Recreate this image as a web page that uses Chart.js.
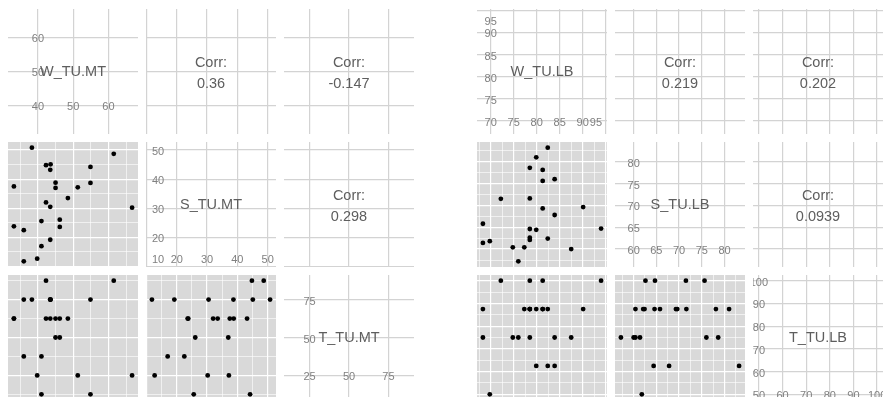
<!DOCTYPE html>
<html>
<head>
<meta charset="utf-8">
<script src="https://cdn.jsdelivr.net/npm/chart.js@4.4.0/dist/chart.umd.min.js"></script>
<style>
  html, body { margin: 0; padding: 0; background: #fff; width: 884px; height: 397px; overflow: hidden; }
  canvas.panel { position: absolute; }
</style>
</head>
<body>
<script>
// --- data (24 respondents each) ---
const W_TU_MT = [38.3, 61.5, 42.3, 43.6, 43.5, 54.9, 33.2, 45.0, 45.0, 51.3, 54.9, 48.5,
                 42.3, 43.5, 66.7, 46.2, 41.0, 33.2, 46.2, 36.0, 43.5, 41.0, 39.8, 36.0];
const S_TU_MT = [50.8, 48.7, 44.8, 45.1, 43.2, 44.2, 37.5, 38.8, 37.0, 37.2, 38.7, 33.5,
                 32.0, 30.5, 30.2, 26.1, 25.6, 23.8, 23.6, 22.5, 19.2, 17.0, 12.7, 11.8];
const T_TU_MT = [75, 87.5, 87.5, 75, 62.5, 12.5, 62.5, 62.5, 50, 25, 75, 62.5,
                 62.5, 75, 25, 50, 12.5, 62.5, 62.5, 37.5, 75, 37.5, 25, 75];

const W_TU_LB = [82.4, 79.9, 78.5, 81.3, 83.9, 81.3, 72.2, 78.5, 90.1, 81.3, 83.9, 68.3,
                 78.5, 79.9, 94.0, 78.5, 78.5, 82.4, 68.3, 69.8, 74.8, 77.3, 87.5, 76.0];
const S_TU_LB = [83.2, 81.0, 78.6, 78.1, 76.0, 75.6, 71.5, 71.6, 69.6, 69.3, 67.8, 65.8,
                 64.6, 64.4, 64.7, 62.6, 62.1, 62.4, 61.4, 61.8, 60.4, 60.4, 60.0, 57.2];
const T_TU_LB = [62.5, 87.5, 75, 87.5, 75, 100, 100, 87.5, 87.5, 87.5, 62.5, 87.5,
                 87.5, 62.5, 100, 100, 87.5, 87.5, 75, 50, 75, 87.5, 75, 75];

const NAMES_MT = ["W_TU.MT", "S_TU.MT", "T_TU.MT"];
const NAMES_LB = ["W_TU.LB", "S_TU.LB", "T_TU.LB"];

// correlation labels: (W,S), (W,T), (S,T)
const CORR_MT = ["0.36", "-0.147", "0.298"];
const CORR_LB = ["0.219", "0.202", "0.0939"];

// axis breaks (tick labels)
const W_MT_BREAKS = [40, 50, 60];
const S_MT_BREAKS = [10, 20, 30, 40, 50];
const T_MT_BREAKS = [25, 50, 75];
const W_LB_BREAKS = [70, 75, 80, 85, 90, 95];
const S_LB_BREAKS = [60, 65, 70, 75, 80];
const T_LB_BREAKS = [50, 60, 70, 80, 90, 100];

// --- layout / style ---
const COLS_MT = [8, 146, 284];
const COLS_LB = [477, 615, 753];
const ROWS = [9, 142, 275];
const PW = 130, PH = 125;
const FONT = '"Liberation Sans", Arial, Helvetica, sans-serif';
const GREY_BG = "#d9d9d9";
const LINE_GREY = "#d3d3d3";
const TEXT_GREY = "#5e5e5e";
const TICK_GREY = "#808080";

function expand(vals) {
  const lo = Math.min(...vals), hi = Math.max(...vals), r = hi - lo;
  return [lo - 0.05 * r, hi + 0.05 * r];
}

function minorBreaks(br, lim) {
  const step = br[1] - br[0], out = [];
  for (let v = br[0] - step / 2; v <= lim[1]; v += step) if (v >= lim[0]) out.push(v);
  return out;
}

function axis(lim, br, lower) {
  const major = br.filter((v) => v >= lim[0] && v <= lim[1]);
  const all = lower ? major.concat(minorBreaks(br, lim)) : major;
  return {
    type: "linear", min: lim[0], max: lim[1], display: true,
    border: { display: false },
    ticks: { display: false },
    grid: {
      drawTicks: false,
      color: lower ? "#ffffff" : LINE_GREY,
      lineWidth: (c) => (lower && c.tick && !major.includes(c.tick.value) ? 0.6 : 1.2),
    },
    afterBuildTicks: (s) => { s.ticks = all.map((v) => ({ value: v })); },
  };
}

function bgPlugin(color) {
  return {
    id: "panelBg",
    beforeDraw(chart) {
      const { ctx, chartArea: a } = chart;
      ctx.save();
      ctx.fillStyle = color;
      ctx.fillRect(a.left, a.top, a.width, a.height);
      ctx.restore();
    },
  };
}

function diagPlugin(name, br) {
  return {
    id: "diagLabels",
    afterDraw(chart) {
      const { ctx, chartArea: a, scales: { x, y } } = chart;
      ctx.save();
      ctx.beginPath();
      ctx.rect(a.left, a.top, a.width, a.height);
      ctx.clip();
      ctx.textAlign = "center";
      ctx.textBaseline = "middle";
      ctx.font = "11px " + FONT;
      ctx.fillStyle = TICK_GREY;
      const b0 = br[0];
      const px0 = x.getPixelForValue(b0), py0 = y.getPixelForValue(b0);
      const put = (txt, px, py) => {
        const w = ctx.measureText(txt).width, h = 8;
        py += 2;
        if (px < a.left + 3) px = a.left + 6 + w / 2;
        else if (px > a.right - 3) px = a.right - 5 - w / 2;
        if (py < a.top + 5) py = a.top + 9 + h / 2;
        else if (py > a.bottom - 3) py = a.bottom - 3 - h / 2;
        ctx.fillText(txt, px, py);
      };
      put(String(b0), px0, py0);
      br.slice(1).forEach((v) => {
        put(String(v), px0, y.getPixelForValue(v));
        put(String(v), x.getPixelForValue(v), py0);
      });
      ctx.font = "14.5px " + FONT;
      ctx.fillStyle = TEXT_GREY;
      ctx.fillText(name, (a.left + a.right) / 2, (a.top + a.bottom) / 2);
      ctx.restore();
    },
  };
}

function corrPlugin(val) {
  return {
    id: "corrText",
    afterDraw(chart) {
      const { ctx, chartArea: a } = chart;
      const cx = (a.left + a.right) / 2, cy = (a.top + a.bottom) / 2;
      ctx.save();
      ctx.font = "14.5px " + FONT;
      ctx.fillStyle = TEXT_GREY;
      ctx.textAlign = "center";
      ctx.textBaseline = "middle";
      ctx.fillText("Corr:", cx, cy - 9);
      ctx.fillText(val, cx, cy + 12);
      ctx.restore();
    },
  };
}

function addPanel(left, top, cfg) {
  const c = document.createElement("canvas");
  c.className = "panel";
  c.width = PW;
  c.height = PH;
  c.style.left = left + "px";
  c.style.top = top + "px";
  document.body.appendChild(c);
  new Chart(c, cfg);
}

function buildMatrix(cols, vars, names, breaks, corrs) {
  const lims = vars.map(expand);
  const corrIdx = { "0,1": 0, "0,2": 1, "1,2": 2 };
  for (let r = 0; r < 3; r++) {
    for (let c = 0; c < 3; c++) {
      const lower = r > c;
      let plugins;
      if (lower) plugins = [bgPlugin(GREY_BG)];
      else if (r === c) plugins = [diagPlugin(names[r], breaks[r])];
      else plugins = [corrPlugin(corrs[corrIdx[r + "," + c]])];
      const pts = lower ? vars[c].map((v, i) => ({ x: v, y: vars[r][i] })) : [];
      addPanel(cols[c], ROWS[r], {
        type: "scatter",
        data: {
          datasets: [{
            data: pts,
            pointRadius: 2.4,
            pointBackgroundColor: "#000",
            pointBorderWidth: 0,
          }],
        },
        options: {
          responsive: false,
          animation: false,
          devicePixelRatio: 1,
          layout: { padding: 0, autoPadding: false },
          plugins: { legend: { display: false }, tooltip: { enabled: false } },
          scales: {
            x: axis(lims[c], breaks[c], lower),
            y: axis(lims[r], breaks[r], lower),
          },
        },
        plugins,
      });
    }
  }
}

buildMatrix(COLS_MT, [W_TU_MT, S_TU_MT, T_TU_MT], NAMES_MT,
  [W_MT_BREAKS, S_MT_BREAKS, T_MT_BREAKS], CORR_MT);
buildMatrix(COLS_LB, [W_TU_LB, S_TU_LB, T_TU_LB], NAMES_LB,
  [W_LB_BREAKS, S_LB_BREAKS, T_LB_BREAKS], CORR_LB);
</script>
</body>
</html>
